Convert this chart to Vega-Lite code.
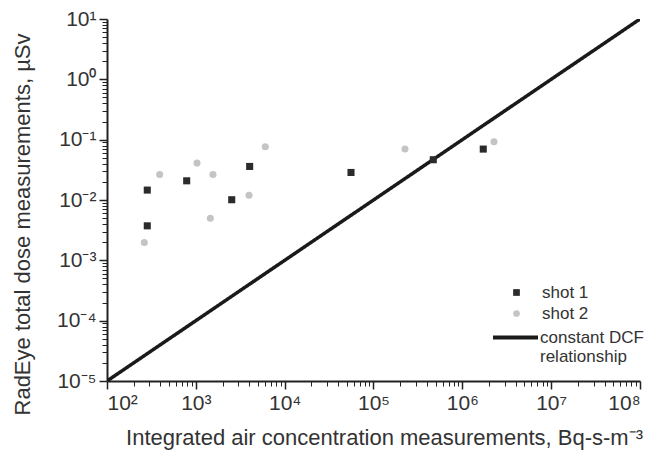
{
  "$schema": "https://vega.github.io/schema/vega-lite/v6.json",
  "width": 533,
  "height": 362,
  "autosize": {"type": "none"},
  "padding": {"left": 107, "top": 19, "right": 15, "bottom": 87},
  "background": "white",
  "config": {
    "view": {"stroke": null},
    "font": "Liberation Sans",
    "axis": {"grid": false, "labelColor": "#333333", "titleColor": "#333333", "labelFont": "Liberation Sans", "titleFont": "Liberation Sans", "titleFontWeight": "normal"},
    "legend": {"labelFont": "Liberation Sans", "labelColor": "#333333", "labelFontSize": 17, "padding": 0}
  },
  "datasets": {
    "points": [
      {"series": "shot 1", "x": 284, "y": 0.0146},
      {"series": "shot 1", "x": 284, "y": 0.00373},
      {"series": "shot 1", "x": 789, "y": 0.0208},
      {"series": "shot 1", "x": 2535, "y": 0.0101},
      {"series": "shot 1", "x": 4036, "y": 0.036},
      {"series": "shot 1", "x": 55800, "y": 0.0286},
      {"series": "shot 1", "x": 471000, "y": 0.0465},
      {"series": "shot 1", "x": 1720000, "y": 0.0698},
      {"series": "shot 2", "x": 263, "y": 0.00197},
      {"series": "shot 2", "x": 392, "y": 0.0265},
      {"series": "shot 2", "x": 1031, "y": 0.0409},
      {"series": "shot 2", "x": 1560, "y": 0.0265},
      {"series": "shot 2", "x": 1455, "y": 0.005},
      {"series": "shot 2", "x": 3970, "y": 0.012},
      {"series": "shot 2", "x": 6053, "y": 0.0762},
      {"series": "shot 2", "x": 226000, "y": 0.0698},
      {"series": "shot 2", "x": 2270000, "y": 0.0923}
    ],
    "dcf": [
      {"series": "constant DCF relationship", "x": 100, "y": 0.00001},
      {"series": "constant DCF relationship", "x": 100000000, "y": 10}
    ]
  },
  "resolve": {"axis": {"x": "independent", "y": "independent"}},
  "layer": [
    {
      "data": {"name": "dcf"},
      "mark": {"type": "line", "color": "#1a1a1a", "strokeWidth": 3.5, "clip": true},
      "encoding": {
        "x": {
          "field": "x", "type": "quantitative",
          "scale": {"type": "log", "domain": [100, 100000000], "nice": false},
          "axis": {
            "orient": "bottom", "title": null, "labels": false, "domain": false,
            "tickSize": 5, "tickWidth": 1, "tickColor": "#222222",
            "values": [200,300,400,500,600,700,800,900,2000,3000,4000,5000,6000,7000,8000,9000,20000,30000,40000,50000,60000,70000,80000,90000,200000,300000,400000,500000,600000,700000,800000,900000,2000000,3000000,4000000,5000000,6000000,7000000,8000000,9000000,20000000,30000000,40000000,50000000,60000000,70000000,80000000,90000000]
          }
        },
        "y": {
          "field": "y", "type": "quantitative",
          "scale": {"type": "log", "domain": [0.00001, 10], "nice": false},
          "axis": {
            "orient": "left", "title": null, "labels": false, "domain": false,
            "tickSize": 5, "tickWidth": 1, "tickColor": "#222222",
            "values": [0.00002,0.00003,0.00004,0.00005,0.00006,0.00007,0.00008,0.00009,0.0002,0.0003,0.0004,0.0005,0.0006,0.0007,0.0008,0.0009,0.002,0.003,0.004,0.005,0.006,0.007,0.008,0.009,0.02,0.03,0.04,0.05,0.06,0.07,0.08,0.09,0.2,0.3,0.4,0.5,0.6,0.7,0.8,0.9,2,3,4,5,6,7,8,9]
          }
        },
        "strokeDash": {
          "field": "series", "type": "nominal",
          "scale": {"domain": ["constant DCF relationship"], "range": [[1, 0]]},
          "legend": {
            "title": null, "orient": "none", "legendX": 384, "legendY": 294,
            "symbolType": "stroke", "symbolSize": 2025, "symbolStrokeWidth": 4, "symbolStrokeColor": "#1a1a1a",
            "labelOffset": 0, "labelFontSize": 17,
            "labelExpr": "['constant DCF', 'relationship']"
          }
        }
      }
    },
    {
      "data": {"name": "points"},
      "mark": {"type": "point", "filled": true, "opacity": 1, "size": 50},
      "encoding": {
        "x": {
          "field": "x", "type": "quantitative",
          "scale": {"type": "log", "domain": [100, 100000000], "nice": false},
          "axis": {
            "orient": "bottom",
            "title": "Integrated air concentration measurements, Bq-s-m⁻³",
            "titleFontSize": 22, "titlePadding": 14, "titleX": 277,
            "values": [100, 1000, 10000, 100000, 1000000, 10000000, 100000000],
            "labelExpr": "'10' + (datum.value < 1 ? '⁻' : '') + ['⁰','¹','²','³','⁴','⁵','⁶','⁷','⁸','⁹'][abs(round(log(datum.value)/LN10))]",
            "labelFontSize": 21, "labelPadding": 3,
            "domainColor": "#222222", "domainWidth": 2,
            "tickSize": 8, "tickWidth": 1.5, "tickColor": "#222222"
          }
        },
        "y": {
          "field": "y", "type": "quantitative",
          "scale": {"type": "log", "domain": [0.00001, 10], "nice": false},
          "axis": {
            "orient": "left",
            "title": "RadEye total dose measurements, µSv",
            "titleFontSize": 22, "titlePadding": 22, "titleY": 205,
            "values": [0.00001, 0.0001, 0.001, 0.01, 0.1, 1, 10],
            "labelExpr": "'10' + (datum.value < 1 ? '⁻' : '') + ['⁰','¹','²','³','⁴','⁵','⁶','⁷','⁸','⁹'][abs(round(log(datum.value)/LN10))]",
            "labelFontSize": 21, "labelPadding": 3,
            "domainColor": "#222222", "domainWidth": 2,
            "tickSize": 8, "tickWidth": 1.5, "tickColor": "#222222"
          }
        },
        "color": {
          "field": "series", "type": "nominal",
          "scale": {"domain": ["shot 1", "shot 2"], "range": ["#2b2b2b", "#c4c4c4"]},
          "legend": {"title": null, "orient": "none", "legendX": 401, "legendY": 265, "symbolSize": 45, "rowPadding": 3, "labelOffset": 17}
        },
        "shape": {
          "field": "series", "type": "nominal",
          "scale": {"domain": ["shot 1", "shot 2"], "range": ["square", "circle"]},
          "legend": {"title": null, "orient": "none", "legendX": 401, "legendY": 265, "symbolSize": 45, "rowPadding": 3, "labelOffset": 17}
        }
      }
    }
  ]
}
